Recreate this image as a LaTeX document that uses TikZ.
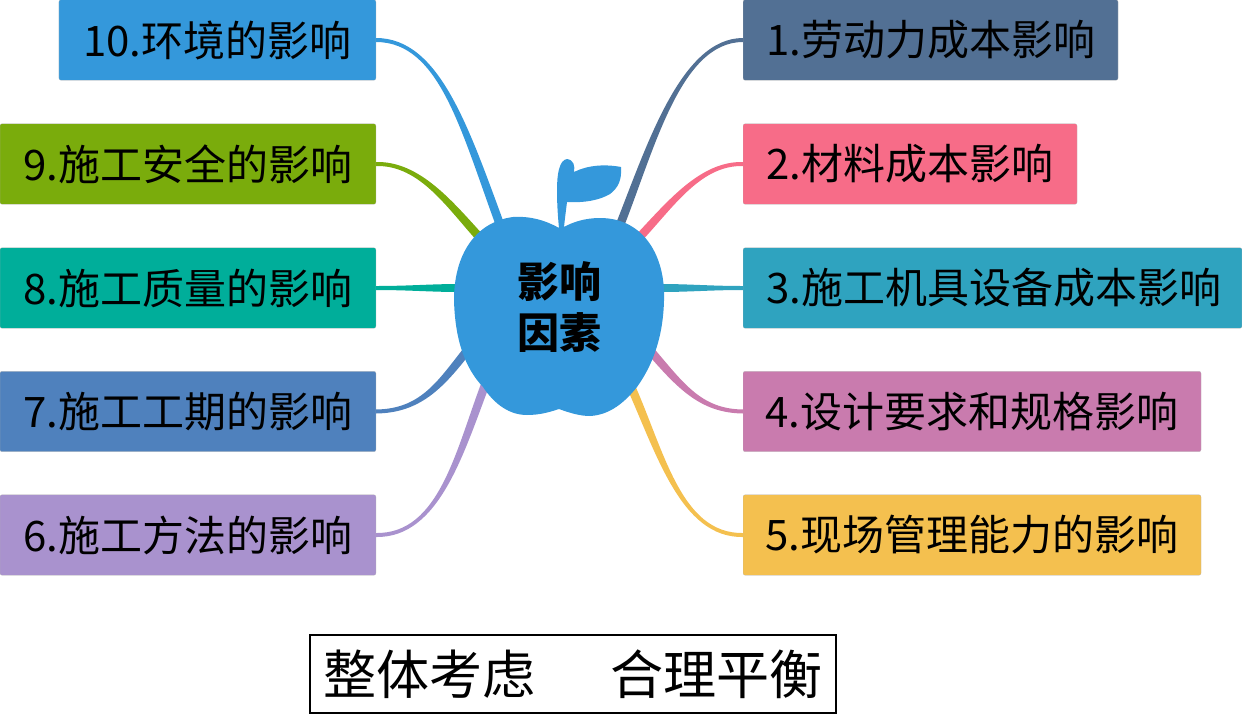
\documentclass[tikz,border=0pt]{standalone}
\usepackage{fontspec}
\setmainfont{Noto Sans CJK SC}
\usepackage{xcolor}
\usetikzlibrary{calc}

\definecolor{topicA}{HTML}{527094}
\definecolor{topicB}{HTML}{F76C88}
\definecolor{topicC}{HTML}{2FA3BF}
\definecolor{topicD}{HTML}{C97BAE}
\definecolor{topicE}{HTML}{F4C04F}
\definecolor{topicF}{HTML}{A992CE}
\definecolor{topicG}{HTML}{4F81BD}
\definecolor{topicH}{HTML}{00AE9A}
\definecolor{topicI}{HTML}{7AAC0C}
\definecolor{topicJ}{HTML}{3498DB}

\tikzset{
  topic/.style={rounded corners=0.04cm, minimum height=1.61cm, inner sep=0pt,
    draw=black!30, line width=0.1pt, text=black,
    font=\fontsize{23.9}{28}\selectfont},
  core/.style={inner sep=0pt, align=center, text=black,
    font=\fontsize{23.9}{29}\selectfont\bfseries},
  motto/.style={draw=black, line width=0.04cm, minimum width=10.54cm, minimum height=1.56cm,
    inner sep=0pt, font=\fontsize{30.2}{34}\selectfont}
}

% tapered branch: box anchor, apple end, two controls, half width at apple, colour
\newcommand{\branch}[6]{
  \fill[#6] ($(#1)+(0,-2)$) .. controls ($(#3)+(0,-2)$) and ($(#4)+(#5)$) .. ($(#2)+(#5)$)
    -- ($(#2)-(#5)$) .. controls ($(#4)-(#5)$) and ($(#3)+(0,2)$) .. ($(#1)+(0,2)$) -- cycle;
}

\begin{document}
\begin{tikzpicture}[x=0.02cm,y=-0.02cm]
  \useasboundingbox (0,0) rectangle (1242,714);

  % right side
  \node[topic, fill=topicA, minimum width=7.5cm, anchor=west] (t1) at (743,40) {1.劳动力成本影响};
  \node[topic, fill=topicB, minimum width=6.68cm, anchor=west] (t2) at (743,164) {2.材料成本影响};
  \node[topic, fill=topicC, minimum width=9.98cm, anchor=west] (t3) at (743,288) {\hspace{0.06cm}3.施工机具设备成本影响};
  \node[topic, fill=topicD, minimum width=9.16cm, anchor=west] (t4) at (743,411.5) {4.设计要求和规格影响};
  \node[topic, fill=topicE, minimum width=9.16cm, anchor=west] (t5) at (743,535) {5.现场管理能力的影响};

  % left side
  \node[topic, fill=topicF, minimum width=7.52cm, anchor=east] (t6) at (376,535) {6.施工方法的影响};
  \node[topic, fill=topicG, minimum width=7.52cm, anchor=east] (t7) at (376,411.5) {7.施工工期的影响};
  \node[topic, fill=topicH, minimum width=7.52cm, anchor=east] (t8) at (376,288) {8.施工质量的影响};
  \node[topic, fill=topicI, minimum width=7.52cm, anchor=east] (t9) at (376,164) {9.施工安全的影响};
  \node[topic, fill=topicJ, minimum width=6.34cm, anchor=east] (t10) at (376,40) {10.环境的影响};

  \coordinate (e1) at (618,230);
  \coordinate (e2) at (636,241);
  \coordinate (e3) at (660,288);
  \coordinate (e4) at (648,348);
  \coordinate (e5) at (628,380);
  \coordinate (e6) at (487,380);
  \coordinate (e7) at (466,352);
  \coordinate (e8) at (460,288);
  \coordinate (e9) at (482,240);
  \coordinate (e10) at (502,230);

  \branch{t1.west}{e1}{680,40}{650,150}{-4,-1.5}{topicA}
  \branch{t2.west}{e2}{700,163}{670,205}{-3,-3}{topicB}
  \branch{t3.west}{e3}{710,288}{690,288}{0,-4}{topicC}
  \branch{t4.west}{e4}{700,411}{680,385}{3,-3}{topicD}
  \branch{t5.west}{e5}{680,536}{660,450}{4,-1.5}{topicE}
  \branch{t6.east}{e6}{440,536}{460,450}{-4,-1.5}{topicF}
  \branch{t7.east}{e7}{420,411}{440,385}{-3,-3}{topicG}
  \branch{t8.east}{e8}{410,288}{430,288}{0,-4}{topicH}
  \branch{t9.east}{e9}{420,163}{450,205}{3,-3}{topicI}
  \branch{t10.east}{e10}{440,40}{465,130}{4,-1.5}{topicJ}

  % apple
  \fill[topicJ] (559,228) .. controls (545,220) and (530,216) .. (513,217)
    .. controls (475,222) and (454,255) .. (454,300)
    .. controls (455,340) and (465,368) .. (483,387)
    .. controls (495,405) and (510,415) .. (527,415)
    .. controls (540,415) and (550,412) .. (559,409)
    .. controls (570,413) and (580,416) .. (590,416)
    .. controls (610,415) and (625,402) .. (637,387)
    .. controls (655,362) and (665,330) .. (664,290)
    .. controls (662,250) and (640,218) .. (600,218)
    .. controls (585,218) and (573,222) .. (564,227)
    .. controls (565,218) and (566,210) .. (567,202)
    .. controls (585,203) and (600,200) .. (610,194)
    .. controls (618,188) and (622,180) .. (621,167)
    .. controls (605,164) and (588,165) .. (574,172)
    .. controls (575,166) and (574,160) .. (567,159)
    .. controls (559,160) and (557,175) .. (557,190)
    .. controls (557,205) and (558,218) .. (559,228) -- cycle;
  \node[core] (apple) at (559,307) {影响\\因素};

  \node[motto] (note) at (573,674) {整体考虑\hspace{1.5cm}合理平衡\hspace{0.06cm}};
\end{tikzpicture}
\end{document}
